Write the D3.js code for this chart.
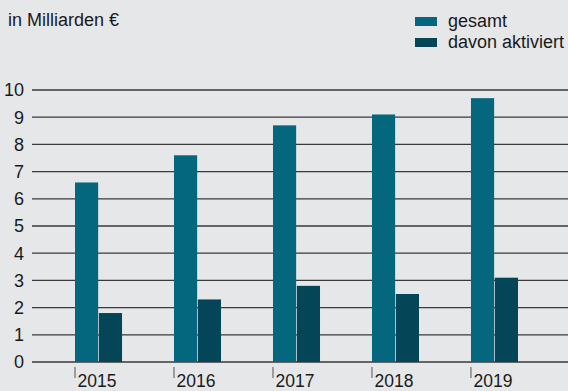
<!DOCTYPE html>
<html>
<head>
<meta charset="utf-8">
<script src="https://cdn.jsdelivr.net/npm/d3@7"></script>
<style>
  html, body { margin: 0; padding: 0; background: #e6e7e9; }
  svg { display: block; }
  text { font-family: "Liberation Sans", Arial, sans-serif; fill: #1a1a1a; }
</style>
</head>
<body>
<script>
// Jahre und Werte (in Milliarden €)
const years = ["2015", "2016", "2017", "2018", "2019"];
const gesamt = [6.6, 7.6, 8.7, 9.1, 9.7];
const aktiviert = [1.8, 2.3, 2.8, 2.5, 3.1];
const yTicks = [0, 1, 2, 3, 4, 5, 6, 7, 8, 9, 10];
const seriesNames = ["gesamt", "davon aktiviert"];
const seriesColors = ["#05677d", "#044657"];

const W = 568, H = 391;
const FS = 18;
const svg = d3.select("body").append("svg").attr("width", W).attr("height", H);
svg.append("rect").attr("width", W).attr("height", H).attr("fill", "#e6e7e9");

const y = d3.scaleLinear().domain([0, 10]).range([362, 90]);
const x = d3.scaleBand().domain(years).range([75, 518]).paddingInner(0.525).paddingOuter(0);
const xs = d3.scaleBand().domain(seriesNames).range([0, x.bandwidth()]).paddingInner(0.03);

// Gitterlinien
svg.append("g").selectAll("line").data(yTicks).join("line")
  .attr("x1", 32).attr("x2", W)
  .attr("y1", d => y(d)).attr("y2", d => y(d))
  .attr("stroke", "#3a3a3a").attr("stroke-width", 1.3);

// y-Achsenbeschriftung
svg.append("g").selectAll("text").data(yTicks).join("text")
  .attr("x", 24).attr("y", d => y(d))
  .attr("dy", "0.36em")
  .attr("text-anchor", "end")
  .attr("font-size", FS)
  .text(d => d);

// Balken
const rows = years.map((yr, i) => ({ year: yr, values: [gesamt[i], aktiviert[i]] }));
const groups = svg.append("g").selectAll("g").data(rows).join("g")
  .attr("transform", d => `translate(${x(d.year)},0)`);
groups.selectAll("rect").data(d => d.values.map((v, j) => ({ v, s: seriesNames[j], c: seriesColors[j] })))
  .join("rect")
  .attr("x", d => xs(d.s))
  .attr("width", xs.bandwidth())
  .attr("y", d => y(d.v))
  .attr("height", d => y(0) - y(d.v))
  .attr("fill", d => d.c);

// x-Achse: Striche und Jahreszahlen
const xa = svg.append("g");
xa.selectAll("line").data(years).join("line")
  .attr("x1", d => x(d)).attr("x2", d => x(d))
  .attr("y1", 367).attr("y2", 378)
  .attr("stroke", "#555").attr("stroke-width", 1);
xa.selectAll("text").data(years).join("text")
  .attr("x", d => x(d) + 2.5).attr("y", 387)
  .attr("font-size", 17.5)
  .text(d => d);

// Einheit
svg.append("text").attr("x", 8).attr("y", 26).attr("font-size", FS).text("in Milliarden €");

// Legende
const lg = svg.append("g").selectAll("g").data(seriesNames).join("g")
  .attr("transform", (d, i) => `translate(415,${17 + i * 21})`);
lg.append("rect").attr("width", 22).attr("height", 9).attr("fill", (d, i) => seriesColors[i]);
lg.append("text").attr("x", 33).attr("y", 9.5).attr("font-size", FS).text(d => d);
</script>
</body>
</html>
